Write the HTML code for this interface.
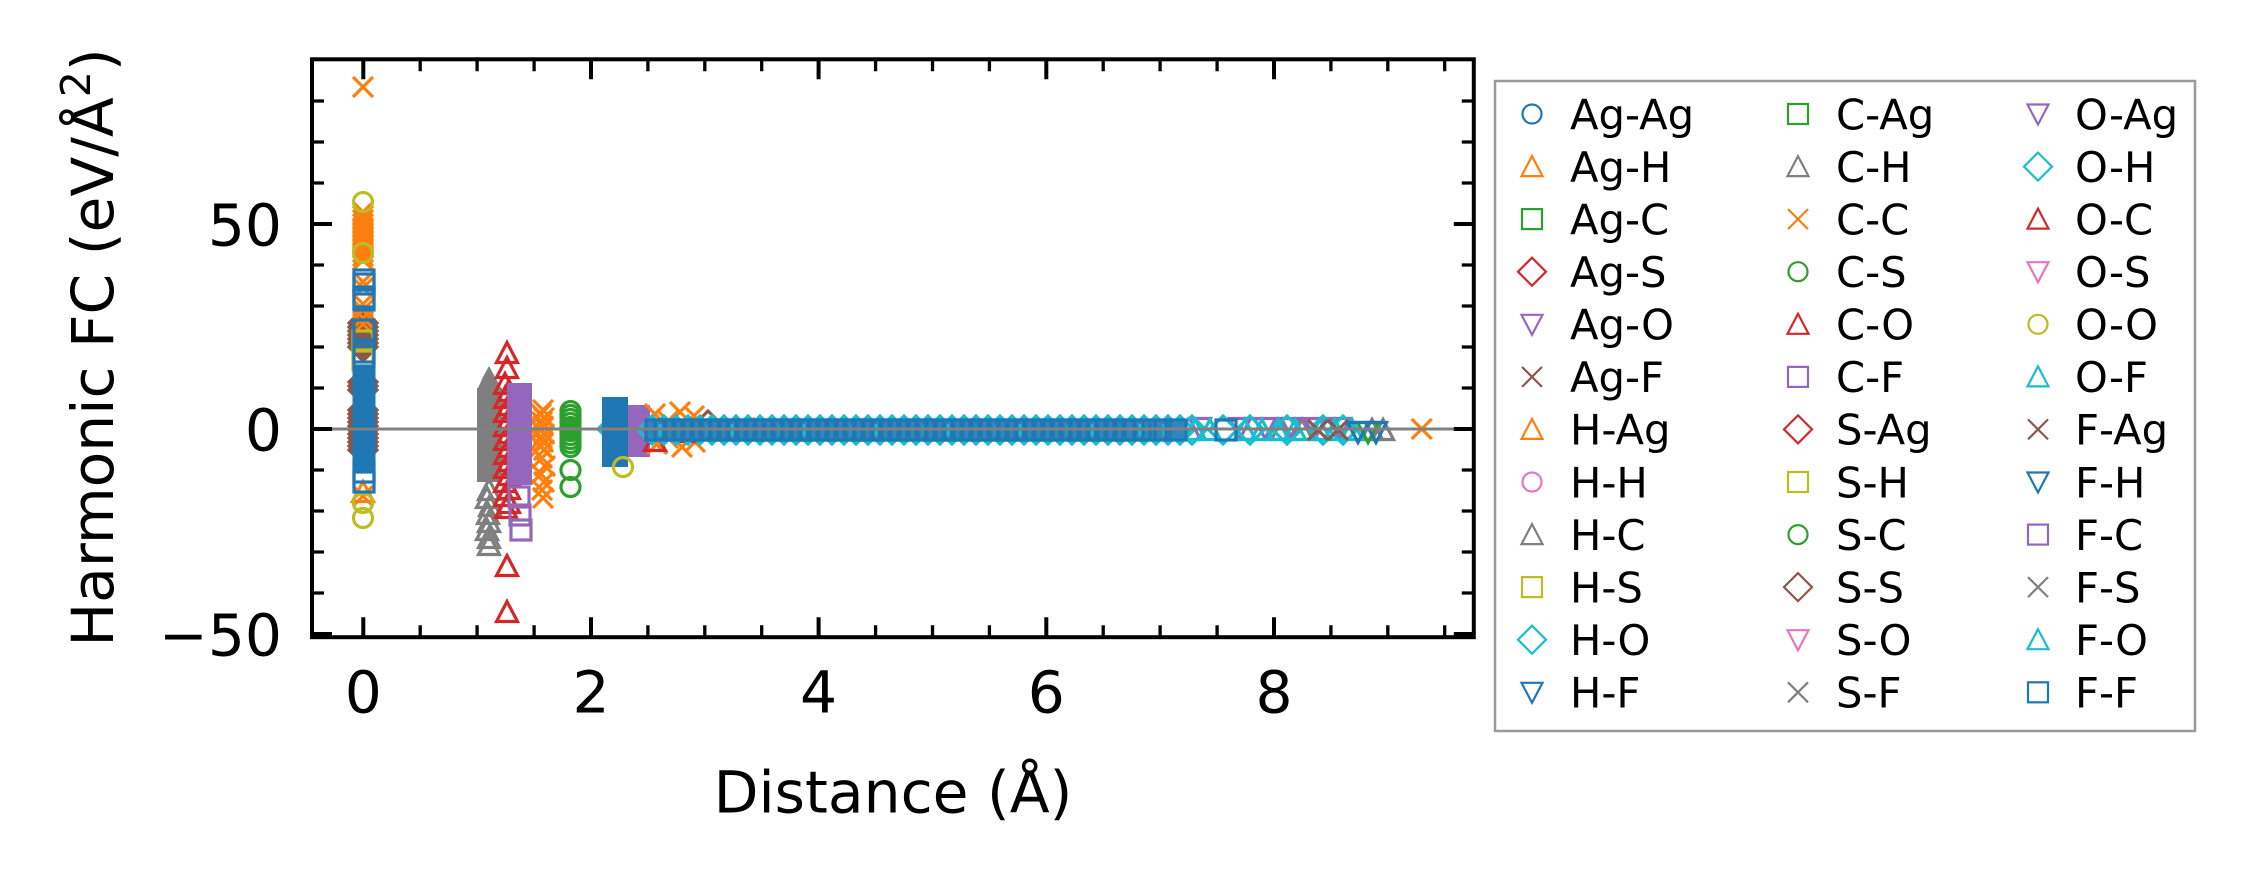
<!DOCTYPE html>
<html><head><meta charset="utf-8"><style>
html,body{margin:0;padding:0;background:#fff;}
svg{display:block;}
text{font-family:"DejaVu Sans","Liberation Sans",sans-serif;fill:#000;}
</style></head><body>
<svg width="2254" height="883" viewBox="0 0 2254 883" xmlns="http://www.w3.org/2000/svg">
<defs>
<circle id="o" r="9.5" fill="none" stroke="currentColor"/>
<rect id="s" x="-10" y="-10" width="20" height="20" fill="none" stroke="currentColor"/>
<path id="u" d="M0,-10.5L10.5,9.5L-10.5,9.5Z" fill="none" stroke="currentColor"/>
<path id="v" d="M0,10.5L10.5,-9.5L-10.5,-9.5Z" fill="none" stroke="currentColor"/>
<path id="d" d="M0,-14L14,0L0,14L-14,0Z" fill="none" stroke="currentColor"/>
<path id="x" d="M-10,-10L10,10M-10,10L10,-10" fill="none" stroke="currentColor"/>
</defs>
<rect width="2254" height="883" fill="#fff"/>

<!-- ===== scatter ===== -->
<g stroke-width="3.2">
<!-- cluster at x=0 -->
<g style="color:#8c564b">
<use href="#d" x="363" y="323"/><use href="#d" x="363" y="327"/><use href="#d" x="363" y="331"/><use href="#d" x="363" y="335"/><use href="#d" x="363" y="339"/><use href="#d" x="363" y="343"/><use href="#d" x="363" y="347"/>
<use href="#d" x="363" y="382"/><use href="#d" x="363" y="386"/><use href="#d" x="363" y="390"/>
<use href="#d" x="363" y="410"/><use href="#d" x="363" y="414"/><use href="#d" x="363" y="418"/><use href="#d" x="363" y="422"/><use href="#d" x="363" y="426"/><use href="#d" x="363" y="430"/><use href="#d" x="363" y="434"/><use href="#d" x="363" y="438"/><use href="#d" x="363" y="442"/><use href="#d" x="363" y="446"/><use href="#d" x="363" y="450"/>
</g>
<g style="color:#ff7f0e">
<use href="#x" x="363" y="87"/>
<use href="#x" x="363" y="212"/><use href="#x" x="363" y="216"/><use href="#x" x="363" y="220"/><use href="#x" x="363" y="224"/><use href="#x" x="363" y="228"/><use href="#x" x="363" y="232"/><use href="#x" x="363" y="236"/><use href="#x" x="363" y="240"/><use href="#x" x="363" y="244"/><use href="#x" x="363" y="248"/><use href="#x" x="363" y="252"/><use href="#x" x="363" y="256"/><use href="#x" x="363" y="260"/>
<use href="#x" x="363" y="282"/><use href="#x" x="363" y="288"/><use href="#x" x="363" y="304"/><use href="#x" x="363" y="310"/><use href="#x" x="363" y="318"/><use href="#x" x="363" y="324"/>
<use href="#u" x="363" y="492"/><use href="#x" x="363" y="496"/>
</g>
<g style="color:#bcbd22">
<use href="#o" x="363" y="202"/><use href="#o" x="363" y="253"/><use href="#s" x="363" y="341"/><use href="#s" x="363" y="360"/><use href="#o" x="363" y="503"/><use href="#o" x="363" y="518"/>
</g>
<g style="color:#1f77b4">
<use href="#s" x="364" y="280"/><use href="#s" x="364" y="284"/><use href="#s" x="364" y="297"/><use href="#s" x="364" y="300"/><use href="#s" x="364" y="330"/><use href="#s" x="364" y="352"/><use href="#s" x="364" y="356"/>
<rect x="352.5" y="366" width="23" height="106" fill="#1f77b4"/>
<use href="#s" x="364" y="472"/><use href="#s" x="364" y="482"/>
</g>

<!-- gray H-C / C-H -->
<polygon points="489,366 495,377 501,388 502,388 502,482 477,482 477,388 478,388 483,377" fill="#7f7f7f"/>
<g style="color:#7f7f7f">
<use href="#u" x="489" y="490"/><use href="#u" x="487" y="498"/><use href="#u" x="490" y="506"/><use href="#u" x="488" y="514"/><use href="#u" x="489" y="522"/><use href="#u" x="487" y="530"/><use href="#u" x="489" y="538"/><use href="#u" x="489" y="545"/>
</g>

<!-- orange C-C -->
<g style="color:#ff7f0e">
<use href="#x" x="543" y="410"/><use href="#x" x="541" y="414"/><use href="#x" x="544" y="418"/><use href="#x" x="542" y="422"/><use href="#x" x="543" y="426"/><use href="#x" x="541" y="430"/><use href="#x" x="544" y="434"/><use href="#x" x="542" y="438"/><use href="#x" x="543" y="442"/><use href="#x" x="541" y="446"/><use href="#x" x="544" y="450"/>
<use href="#x" x="542" y="458"/><use href="#x" x="545" y="466"/><use href="#x" x="541" y="474"/><use href="#x" x="544" y="482"/><use href="#x" x="542" y="490"/><use href="#x" x="543" y="498"/>
</g>
<!-- green C-S -->
<g style="color:#2ca02c">
<use href="#o" x="570.5" y="411"/><use href="#o" x="570.5" y="415"/><use href="#o" x="570.5" y="419"/><use href="#o" x="570.5" y="423"/><use href="#o" x="570.5" y="427"/><use href="#o" x="570.5" y="431"/><use href="#o" x="570.5" y="435"/><use href="#o" x="570.5" y="439"/><use href="#o" x="570.5" y="443"/><use href="#o" x="570.5" y="447"/>
<use href="#o" x="570.5" y="470"/><use href="#o" x="570.5" y="487"/>
</g>
<!-- red C-O / O-C -->
<g style="color:#d62728">
<use href="#u" x="507" y="353"/><use href="#u" x="507" y="368"/><use href="#u" x="505" y="384"/><use href="#u" x="509" y="391"/><use href="#u" x="505" y="398"/><use href="#u" x="509" y="405"/><use href="#u" x="505" y="412"/><use href="#u" x="509" y="419"/><use href="#u" x="505" y="426"/><use href="#u" x="509" y="433"/><use href="#u" x="505" y="440"/><use href="#u" x="509" y="447"/><use href="#u" x="505" y="454"/><use href="#u" x="509" y="461"/><use href="#u" x="505" y="468"/><use href="#u" x="509" y="475"/><use href="#u" x="505" y="482"/><use href="#u" x="509" y="489"/><use href="#u" x="505" y="496"/><use href="#u" x="509" y="503"/><use href="#u" x="506" y="508"/>
<use href="#u" x="507" y="566"/><use href="#u" x="507" y="612"/>
</g>
<!-- purple C-F -->
<rect x="507" y="383" width="25" height="102" fill="#9467bd"/>
<g style="color:#9467bd">
<use href="#s" x="519" y="497"/><use href="#s" x="520" y="515"/><use href="#s" x="521" y="530"/>
</g>
<!-- cyan diamond, blue block, olive, purple near 2.2-2.5 -->
<g style="color:#17becf"><use href="#d" x="612" y="429"/></g>
<rect x="602" y="397" width="26" height="70" fill="#1f77b4"/>
<g style="color:#bcbd22"><use href="#o" x="623" y="467"/></g>
<rect x="628" y="405" width="22" height="52" fill="#9467bd"/>

<!-- band region -->
<g style="color:#7f7f7f">
<use href="#u" x="1282" y="430"/><use href="#u" x="1302" y="430"/><use href="#u" x="1372" y="430"/><use href="#u" x="1383" y="430"/>
</g>
<g style="color:#ff7f0e">
<use href="#x" x="655" y="414"/><use href="#x" x="657" y="444"/><use href="#x" x="668" y="421"/><use href="#x" x="668" y="438"/><use href="#x" x="680" y="412"/><use href="#x" x="682" y="447"/><use href="#x" x="694" y="416"/><use href="#x" x="695" y="442"/><use href="#x" x="720" y="430"/><use href="#x" x="745" y="428"/>
</g>
<g style="color:#d62728"><use href="#u" x="655" y="441"/><use href="#u" x="690" y="432"/></g>
<g style="color:#9467bd">
<use href="#s" x="772" y="430"/><use href="#s" x="788" y="430"/><use href="#s" x="804" y="430"/><use href="#s" x="868" y="430"/>
</g>
<g style="color:#8c564b"><use href="#d" x="708" y="425"/></g>
<g style="color:#9467bd">
<use href="#v" x="1200" y="428"/><use href="#v" x="1240" y="428"/><use href="#v" x="1265" y="428"/><use href="#v" x="1290" y="428"/><use href="#v" x="1315" y="428"/><use href="#v" x="1340" y="428"/>
</g>
<g style="color:#17becf">
<use href="#d" x="652" y="430"/><use href="#d" x="664" y="430"/><use href="#d" x="676" y="430"/><use href="#d" x="688" y="430"/><use href="#d" x="700" y="430"/><use href="#d" x="712" y="430"/><use href="#d" x="724" y="430"/><use href="#d" x="736" y="430"/><use href="#d" x="748" y="430"/><use href="#d" x="760" y="430"/><use href="#d" x="772" y="430"/><use href="#d" x="784" y="430"/><use href="#d" x="796" y="430"/><use href="#d" x="808" y="430"/><use href="#d" x="820" y="430"/><use href="#d" x="832" y="430"/><use href="#d" x="844" y="430"/><use href="#d" x="856" y="430"/><use href="#d" x="868" y="430"/><use href="#d" x="880" y="430"/><use href="#d" x="892" y="430"/><use href="#d" x="904" y="430"/><use href="#d" x="916" y="430"/><use href="#d" x="928" y="430"/><use href="#d" x="940" y="430"/><use href="#d" x="952" y="430"/><use href="#d" x="964" y="430"/><use href="#d" x="976" y="430"/><use href="#d" x="988" y="430"/><use href="#d" x="1000" y="430"/><use href="#d" x="1012" y="430"/><use href="#d" x="1024" y="430"/><use href="#d" x="1036" y="430"/><use href="#d" x="1048" y="430"/><use href="#d" x="1060" y="430"/><use href="#d" x="1072" y="430"/><use href="#d" x="1084" y="430"/><use href="#d" x="1096" y="430"/><use href="#d" x="1108" y="430"/><use href="#d" x="1120" y="430"/><use href="#d" x="1132" y="430"/><use href="#d" x="1144" y="430"/><use href="#d" x="1156" y="430"/><use href="#d" x="1168" y="430"/><use href="#d" x="1180" y="430"/><use href="#d" x="1192" y="430"/>
<use href="#d" x="1223" y="430"/><use href="#d" x="1250" y="430"/><use href="#d" x="1287" y="430"/><use href="#d" x="1323" y="430"/><use href="#d" x="1343" y="430"/>
<use href="#u" x="1195" y="430"/><use href="#u" x="1210" y="430"/><use href="#u" x="1245" y="430"/><use href="#u" x="1262" y="430"/><use href="#u" x="1278" y="430"/><use href="#u" x="1295" y="430"/><use href="#u" x="1320" y="430"/><use href="#u" x="1335" y="430"/><use href="#u" x="1352" y="430"/>
</g>
<g style="color:#8c564b"><use href="#x" x="1318" y="430"/><use href="#x" x="1338" y="430"/></g>
<g style="color:#2ca02c"><use href="#v" x="1368" y="432"/></g>
<g style="color:#1f77b4">
<use href="#v" x="1358" y="432"/><use href="#v" x="1376" y="432"/>
</g>
<!-- dense core of band -->
<rect x="646" y="420" width="540" height="20" fill="#2f88bd"/>
<g stroke="#17becf" stroke-width="3">
<path d="M660,424V436M684,424V436M708,424V436M732,424V436M756,424V436M780,424V436M804,424V436M828,424V436M852,424V436M876,424V436M900,424V436M924,424V436M948,424V436M972,424V436M996,424V436M1020,424V436M1044,424V436M1068,424V436M1092,424V436M1116,424V436M1140,424V436M1164,424V436"/>
</g>
<g style="color:#1f77b4">
<use href="#s" x="656" y="430"/><use href="#s" x="665" y="430"/><use href="#s" x="674" y="430"/><use href="#s" x="683" y="430"/><use href="#s" x="692" y="430"/><use href="#s" x="701" y="430"/><use href="#s" x="710" y="430"/><use href="#s" x="719" y="430"/><use href="#s" x="728" y="430"/><use href="#s" x="737" y="430"/><use href="#s" x="746" y="430"/><use href="#s" x="755" y="430"/><use href="#s" x="764" y="430"/><use href="#s" x="773" y="430"/><use href="#s" x="782" y="430"/><use href="#s" x="791" y="430"/><use href="#s" x="800" y="430"/><use href="#s" x="809" y="430"/><use href="#s" x="818" y="430"/><use href="#s" x="827" y="430"/><use href="#s" x="836" y="430"/><use href="#s" x="845" y="430"/><use href="#s" x="854" y="430"/><use href="#s" x="863" y="430"/><use href="#s" x="872" y="430"/><use href="#s" x="881" y="430"/><use href="#s" x="890" y="430"/><use href="#s" x="899" y="430"/><use href="#s" x="908" y="430"/><use href="#s" x="917" y="430"/><use href="#s" x="926" y="430"/><use href="#s" x="935" y="430"/><use href="#s" x="944" y="430"/><use href="#s" x="953" y="430"/><use href="#s" x="962" y="430"/><use href="#s" x="971" y="430"/><use href="#s" x="980" y="430"/><use href="#s" x="989" y="430"/><use href="#s" x="998" y="430"/><use href="#s" x="1007" y="430"/><use href="#s" x="1016" y="430"/><use href="#s" x="1025" y="430"/><use href="#s" x="1034" y="430"/><use href="#s" x="1043" y="430"/><use href="#s" x="1052" y="430"/><use href="#s" x="1061" y="430"/><use href="#s" x="1070" y="430"/><use href="#s" x="1079" y="430"/><use href="#s" x="1088" y="430"/><use href="#s" x="1097" y="430"/><use href="#s" x="1106" y="430"/><use href="#s" x="1115" y="430"/><use href="#s" x="1124" y="430"/><use href="#s" x="1133" y="430"/><use href="#s" x="1145" y="430"/><use href="#s" x="1160" y="430"/><use href="#s" x="1176" y="430"/><use href="#s" x="1226" y="430"/>
</g>
<g style="color:#ff7f0e"><use href="#x" x="1421.7" y="429"/></g>
</g>

<!-- zero line -->
<line x1="312" y1="429" x2="1474" y2="429" stroke="#808080" stroke-width="3"/>

<!-- axes frame and ticks -->
<rect x="312" y="59.3" width="1161.8" height="577.9" fill="none" stroke="#000" stroke-width="4"/>
<g stroke="#000" stroke-width="4" fill="none">
<path d="M363.3,637.2V617.2M591,637.2V617.2M818.6,637.2V617.2M1046.3,637.2V617.2M1274,637.2V617.2"/>
<path d="M363.3,59.3V79.3M591,59.3V79.3M818.6,59.3V79.3M1046.3,59.3V79.3M1274,59.3V79.3"/>
<path d="M312,224H332M312,429H332M312,634H332"/>
<path d="M1473.8,224H1453.8M1473.8,429H1453.8M1473.8,634H1453.8"/>
</g>
<g stroke="#000" stroke-width="3.3" fill="none">
<path d="M420.2,637.2V625.2M477.1,637.2V625.2M534.1,637.2V625.2M647.9,637.2V625.2M704.8,637.2V625.2M761.7,637.2V625.2M875.6,637.2V625.2M932.5,637.2V625.2M989.4,637.2V625.2M1103.2,637.2V625.2M1160.1,637.2V625.2M1217.1,637.2V625.2M1330.9,637.2V625.2M1387.8,637.2V625.2M1444.7,637.2V625.2"/>
<path d="M420.2,59.3V71.3M477.1,59.3V71.3M534.1,59.3V71.3M647.9,59.3V71.3M704.8,59.3V71.3M761.7,59.3V71.3M875.6,59.3V71.3M932.5,59.3V71.3M989.4,59.3V71.3M1103.2,59.3V71.3M1160.1,59.3V71.3M1217.1,59.3V71.3M1330.9,59.3V71.3M1387.8,59.3V71.3M1444.7,59.3V71.3"/>
<path d="M312,101H324M312,142H324M312,183H324M312,265H324M312,306H324M312,347H324M312,388H324M312,470H324M312,511H324M312,552H324M312,593H324"/>
<path d="M1473.8,101H1461.8M1473.8,142H1461.8M1473.8,183H1461.8M1473.8,265H1461.8M1473.8,306H1461.8M1473.8,347H1461.8M1473.8,388H1461.8M1473.8,470H1461.8M1473.8,511H1461.8M1473.8,552H1461.8M1473.8,593H1461.8"/>
</g>

<!-- tick labels -->
<g font-size="58.3" text-anchor="end">
<text x="282" y="245.5">50</text>
<text x="282" y="450.5">0</text>
<text x="282" y="655.5">−50</text>
</g>
<g font-size="58.3" text-anchor="middle">
<text x="363.3" y="712.5">0</text>
<text x="591" y="712.5">2</text>
<text x="818.6" y="712.5">4</text>
<text x="1046.3" y="712.5">6</text>
<text x="1274" y="712.5">8</text>
</g>

<!-- axis labels -->
<text x="893" y="812.5" font-size="58.3" text-anchor="middle">Distance (Å)</text>
<text transform="translate(113,347.5) rotate(-90)" font-size="58.3" text-anchor="middle">Harmonic FC (eV/Å<tspan font-size="41" dy="-23">2</tspan><tspan dy="23">)</tspan></text>

<!-- legend -->
<rect x="1495" y="81" width="700" height="650" fill="#fff" stroke="#999" stroke-width="2.5"/>
<g stroke-width="2.2">
<use href="#o" x="1532" y="114" style="color:#1f77b4"/>
<use href="#u" x="1532" y="166.6" style="color:#ff7f0e"/>
<use href="#s" x="1532" y="219.1" style="color:#2ca02c"/>
<use href="#d" x="1532" y="271.7" style="color:#d62728"/>
<use href="#v" x="1532" y="324.3" style="color:#9467bd"/>
<use href="#x" x="1532" y="376.9" style="color:#8c564b"/>
<use href="#u" x="1532" y="429.4" style="color:#ff7f0e"/>
<use href="#o" x="1532" y="482" style="color:#e377c2"/>
<use href="#u" x="1532" y="534.6" style="color:#7f7f7f"/>
<use href="#s" x="1532" y="587.1" style="color:#bcbd22"/>
<use href="#d" x="1532" y="639.7" style="color:#17becf"/>
<use href="#v" x="1532" y="692.3" style="color:#1f77b4"/>

<use href="#s" x="1798" y="114" style="color:#2ca02c"/>
<use href="#u" x="1798" y="166.6" style="color:#7f7f7f"/>
<use href="#x" x="1798" y="219.1" style="color:#ff7f0e"/>
<use href="#o" x="1798" y="271.7" style="color:#2ca02c"/>
<use href="#u" x="1798" y="324.3" style="color:#d62728"/>
<use href="#s" x="1798" y="376.9" style="color:#9467bd"/>
<use href="#d" x="1798" y="429.4" style="color:#d62728"/>
<use href="#s" x="1798" y="482" style="color:#bcbd22"/>
<use href="#o" x="1798" y="534.6" style="color:#2ca02c"/>
<use href="#d" x="1798" y="587.1" style="color:#8c564b"/>
<use href="#v" x="1798" y="639.7" style="color:#e377c2"/>
<use href="#x" x="1798" y="692.3" style="color:#7f7f7f"/>

<use href="#v" x="2038" y="114" style="color:#9467bd"/>
<use href="#d" x="2038" y="166.6" style="color:#17becf"/>
<use href="#u" x="2038" y="219.1" style="color:#d62728"/>
<use href="#v" x="2038" y="271.7" style="color:#e377c2"/>
<use href="#o" x="2038" y="324.3" style="color:#bcbd22"/>
<use href="#u" x="2038" y="376.9" style="color:#17becf"/>
<use href="#x" x="2038" y="429.4" style="color:#8c564b"/>
<use href="#v" x="2038" y="482" style="color:#1f77b4"/>
<use href="#s" x="2038" y="534.6" style="color:#9467bd"/>
<use href="#x" x="2038" y="587.1" style="color:#7f7f7f"/>
<use href="#u" x="2038" y="639.7" style="color:#17becf"/>
<use href="#s" x="2038" y="692.3" style="color:#1f77b4"/>
</g>
<g font-size="41.7">
<text x="1570" y="129.3">Ag-Ag</text>
<text x="1570" y="181.9">Ag-H</text>
<text x="1570" y="234.4">Ag-C</text>
<text x="1570" y="287">Ag-S</text>
<text x="1570" y="339.6">Ag-O</text>
<text x="1570" y="392.2">Ag-F</text>
<text x="1570" y="444.7">H-Ag</text>
<text x="1570" y="497.3">H-H</text>
<text x="1570" y="549.9">H-C</text>
<text x="1570" y="602.4">H-S</text>
<text x="1570" y="655">H-O</text>
<text x="1570" y="707.6">H-F</text>

<text x="1836" y="129.3">C-Ag</text>
<text x="1836" y="181.9">C-H</text>
<text x="1836" y="234.4">C-C</text>
<text x="1836" y="287">C-S</text>
<text x="1836" y="339.6">C-O</text>
<text x="1836" y="392.2">C-F</text>
<text x="1836" y="444.7">S-Ag</text>
<text x="1836" y="497.3">S-H</text>
<text x="1836" y="549.9">S-C</text>
<text x="1836" y="602.4">S-S</text>
<text x="1836" y="655">S-O</text>
<text x="1836" y="707.6">S-F</text>

<text x="2075" y="129.3">O-Ag</text>
<text x="2075" y="181.9">O-H</text>
<text x="2075" y="234.4">O-C</text>
<text x="2075" y="287">O-S</text>
<text x="2075" y="339.6">O-O</text>
<text x="2075" y="392.2">O-F</text>
<text x="2075" y="444.7">F-Ag</text>
<text x="2075" y="497.3">F-H</text>
<text x="2075" y="549.9">F-C</text>
<text x="2075" y="602.4">F-S</text>
<text x="2075" y="655">F-O</text>
<text x="2075" y="707.6">F-F</text>
</g>
</svg>
</body></html>
